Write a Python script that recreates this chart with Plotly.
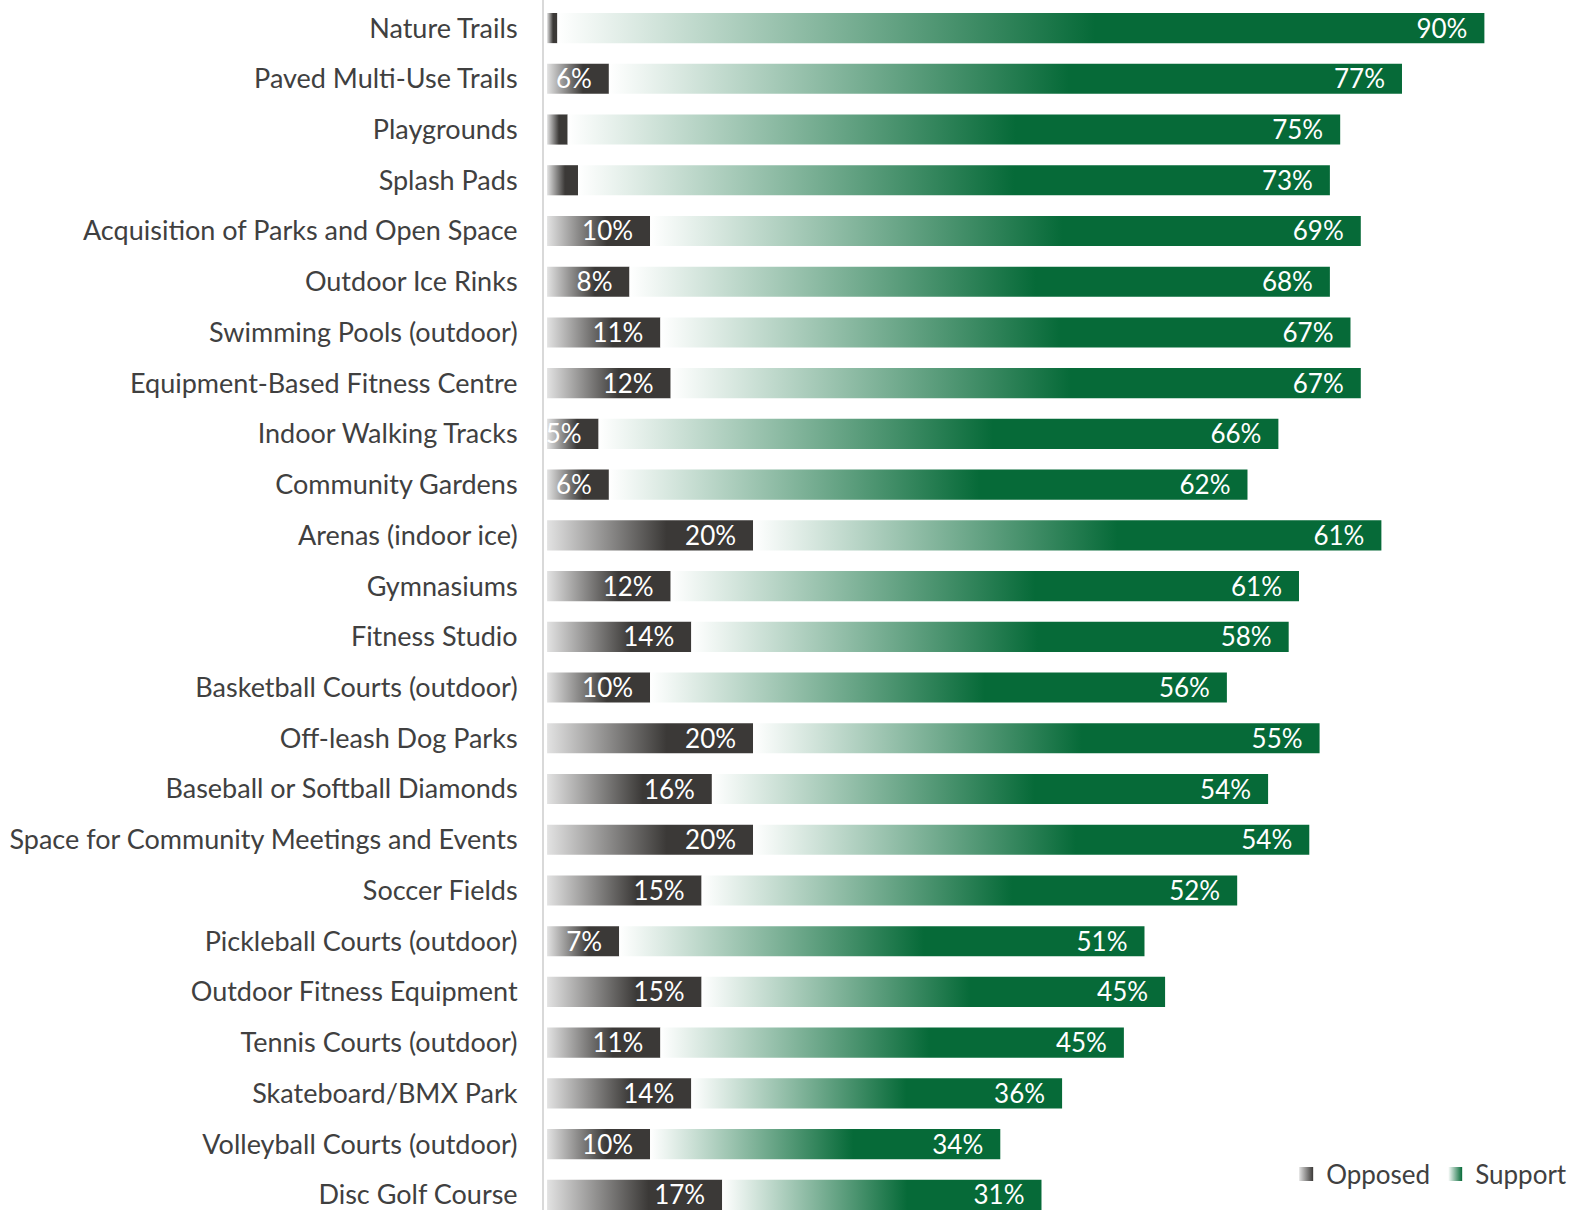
import plotly.graph_objects as go

# Survey results: share of respondents opposed / supporting each amenity (%)
categories = [
    "Nature Trails", "Paved Multi-Use Trails", "Playgrounds", "Splash Pads",
    "Acquisition of Parks and Open Space", "Outdoor Ice Rinks", "Swimming Pools (outdoor)",
    "Equipment-Based Fitness Centre", "Indoor Walking Tracks", "Community Gardens",
    "Arenas (indoor ice)", "Gymnasiums", "Fitness Studio", "Basketball Courts (outdoor)",
    "Off-leash Dog Parks", "Baseball or Softball Diamonds",
    "Space for Community Meetings and Events", "Soccer Fields", "Pickleball Courts (outdoor)",
    "Outdoor Fitness Equipment", "Tennis Courts (outdoor)", "Skateboard/BMX Park",
    "Volleyball Courts (outdoor)", "Disc Golf Course",
]
opposed = [1, 6, 2, 3, 10, 8, 11, 12, 5, 6, 20, 12, 14, 10, 20, 16, 20, 15, 7, 15, 11, 14, 10, 17]
support = [90, 77, 75, 73, 69, 68, 67, 67, 66, 62, 61, 61, 58, 56, 55, 54, 54, 52, 51, 45, 45, 36, 34, 31]
# small opposed shares carry no data label
opposed_labelled = [False, True, False, False] + [True] * 20

FONT = "Lato"
TEXT_GREY = "#404040"
GREY_LIGHT, GREY_DARK = "#e2e2e2", "#3b3937"
GREEN_LIGHT, GREEN_DARK = "#ffffff", "#066a38"

PX_PER_UNIT = 10.3
LEFT, RIGHT = 544, 10
W, H = 1573, 1210
ROW_PX = 50.73
HALF = 0.297          # half bar thickness in category units
LABEL_PAD = 17 / PX_PER_UNIT
LABEL_DROP = 3 / ROW_PX

x_min = -0.3
x_max = x_min + (W - LEFT - RIGHT) / PX_PER_UNIT
y_top = -0.5 - 2.7 / ROW_PX
y_bot = y_top + H / ROW_PX


def grad(light, dark):
    return [[0, light], [0.58, dark], [1, dark]]


def bar_trace(i, x0, x1, light, dark):
    y0, y1 = i - HALF, i + HALF
    return go.Scatter(
        x=[x0, x1, x1, x0, x0], y=[y0, y0, y1, y1, y0],
        mode="none", fill="toself",
        fillgradient=dict(type="horizontal", colorscale=grad(light, dark), start=x0, stop=x1),
        hoverinfo="skip", showlegend=False,
    )


fig = go.Figure()

for i, (o, s) in enumerate(zip(opposed, support)):
    fig.add_trace(bar_trace(i, 0, o, GREY_LIGHT, GREY_DARK))
    fig.add_trace(bar_trace(i, o, o + s, GREEN_LIGHT, GREEN_DARK))

# value labels, right-aligned inside the end of each segment
label_font = dict(family=FONT, size=26, color="white")
op_idx = [i for i in range(len(categories)) if opposed_labelled[i]]
fig.add_trace(go.Scatter(
    x=[opposed[i] - LABEL_PAD for i in op_idx], y=[i + LABEL_DROP for i in op_idx],
    text=[f"{opposed[i]}%" for i in op_idx],
    mode="text", textposition="middle left", textfont=label_font,
    cliponaxis=True, hoverinfo="skip", showlegend=False,
))
fig.add_trace(go.Scatter(
    x=[o + s - LABEL_PAD for o, s in zip(opposed, support)],
    y=[i + LABEL_DROP for i in range(len(categories))],
    text=[f"{s}%" for s in support],
    mode="text", textposition="middle left", textfont=label_font,
    cliponaxis=True, hoverinfo="skip", showlegend=False,
))

# legend entries
for name, light, dark in [("Opposed", GREY_LIGHT, GREY_DARK), ("Support", GREEN_LIGHT, GREEN_DARK)]:
    fig.add_trace(go.Scatter(
        x=[None], y=[None], mode="markers", name=name,
        marker=dict(symbol="square", size=14, color=light,
                    gradient=dict(type="horizontal", color=dark)),
    ))

fig.update_layout(
    width=W, height=H,
    margin=dict(l=LEFT, r=RIGHT, t=0, b=0),
    plot_bgcolor="white", paper_bgcolor="white",
    font=dict(family=FONT, color=TEXT_GREY),
    xaxis=dict(range=[x_min, x_max], visible=False, fixedrange=True),
    yaxis=dict(
        range=[y_bot, y_top],
        tickvals=list(range(len(categories))), ticktext=categories,
        tickfont=dict(family=FONT, size=27, color=TEXT_GREY),
        showgrid=False, zeroline=False,
        showline=True, linecolor="#d9d9d9", linewidth=2,
        ticks="", ticklabelstandoff=19, ticklabeloverflow="allow",
    ),
    legend=dict(
        orientation="h", x=1.009, xanchor="right", y=1 - 1174 / H, yanchor="middle",
        font=dict(family=FONT, size=26, color=TEXT_GREY),
        bgcolor="rgba(0,0,0,0)", itemwidth=30,
    ),
    showlegend=True,
)

fig.write_html("out.html")
